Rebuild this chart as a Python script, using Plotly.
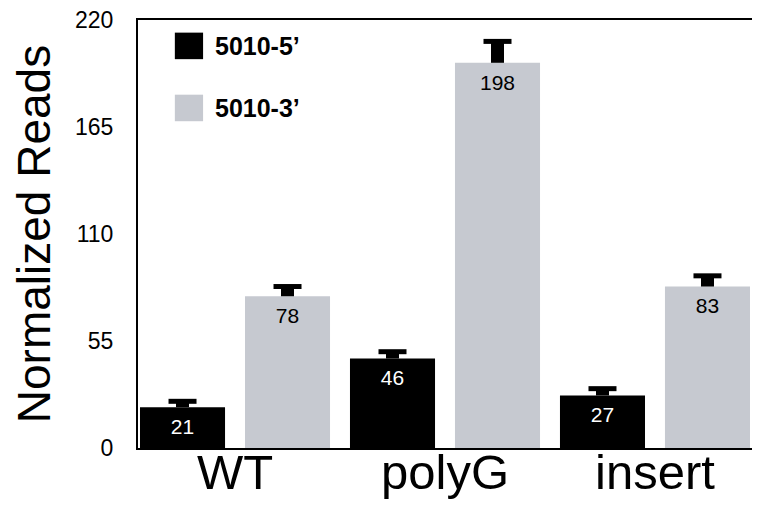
import plotly.graph_objects as go

categories = ["WT", "polyG", "insert"]
series_names = ["5010-5’", "5010-3’"]
five_prime = [21, 46, 27]
three_prime = [78, 198, 83]
five_err = [3, 3.5, 3.5]
three_err = [5, 11, 5.5]
y_ticks = [0, 55, 110, 165, 220]

BLACK = "#000000"
GREY = "#c6c9d0"
SANS = "Liberation Sans, Arial, Helvetica, sans-serif"

fig = go.Figure()

def add_series(values, errs, color, text_color, group):
    fig.add_trace(go.Bar(
        x=categories, y=values, name=group, offsetgroup=group,
        marker=dict(color=color, line=dict(width=0)),
        error_y=dict(type="data", array=errs, arrayminus=[0] * len(errs),
                     symmetric=False, thickness=13, width=0, color=BLACK),
        showlegend=False, hoverinfo="skip",
    ))
    # error-bar caps
    fig.add_trace(go.Scatter(
        x=categories, y=[v + e for v, e in zip(values, errs)],
        offsetgroup=group, mode="markers",
        marker=dict(symbol="line-ew", size=20, color=BLACK,
                    line=dict(width=5, color=BLACK)),
        showlegend=False, hoverinfo="skip", cliponaxis=False,
    ))
    # value labels inside bars
    fig.add_trace(go.Scatter(
        x=categories, y=values, offsetgroup=group, mode="markers+text",
        marker=dict(size=16, opacity=0),
        text=[str(v) for v in values], textposition="bottom center",
        textfont=dict(family=SANS, size=21, color=text_color),
        showlegend=False, hoverinfo="skip",
    ))

add_series(five_prime, five_err, BLACK, "white", "s5")
add_series(three_prime, three_err, GREY, BLACK, "s3")

# legend drawn as swatches + text
legend_items = [(series_names[0], BLACK, 0.9395), (series_names[1], GREY, 0.7945)]
for name, color, yc in legend_items:
    fig.add_shape(type="rect", xref="paper", yref="paper",
                  x0=0.060, x1=0.106, y0=yc - 0.031, y1=yc + 0.031,
                  fillcolor=color, line=dict(width=0))
    fig.add_annotation(xref="paper", yref="paper", x=0.122, y=yc,
                       text="<b>" + name + "</b>", showarrow=False,
                       xanchor="left", yanchor="middle",
                       font=dict(family=SANS, size=25, color=BLACK))

# page body has an 8px margin, so the figure is shrunk and shifted by it
fig.update_layout(
    width=744, height=497,
    margin=dict(l=130, r=0, t=12, b=57),
    paper_bgcolor="white", plot_bgcolor="white",
    barmode="group", bargap=0, bargroupgap=0.19,
    scattermode="group", scattergap=0,
    showlegend=False,
)
fig.update_xaxes(
    type="category", range=[-0.462, 2.462], automargin=False,
    showline=True, linecolor=BLACK, linewidth=2, mirror=True,
    showgrid=False, zeroline=False, ticks="",
    tickfont=dict(family=SANS, size=49, color=BLACK),
    ticklabelstandoff=-20,
)
fig.update_yaxes(
    range=[0, 220], tickvals=y_ticks, ticktext=[str(t) for t in y_ticks],
    automargin=False, ticklabeloverflow="allow",
    showline=True, linecolor=BLACK, linewidth=2,
    showgrid=False, zeroline=False, ticks="",
    tickfont=dict(family=SANS, size=23, color=BLACK),
    ticklabelstandoff=18,
    title=dict(text="Normalized Reads", standoff=10,
               font=dict(family=SANS, size=46, color=BLACK)),
)

fig.write_html("out.html")
